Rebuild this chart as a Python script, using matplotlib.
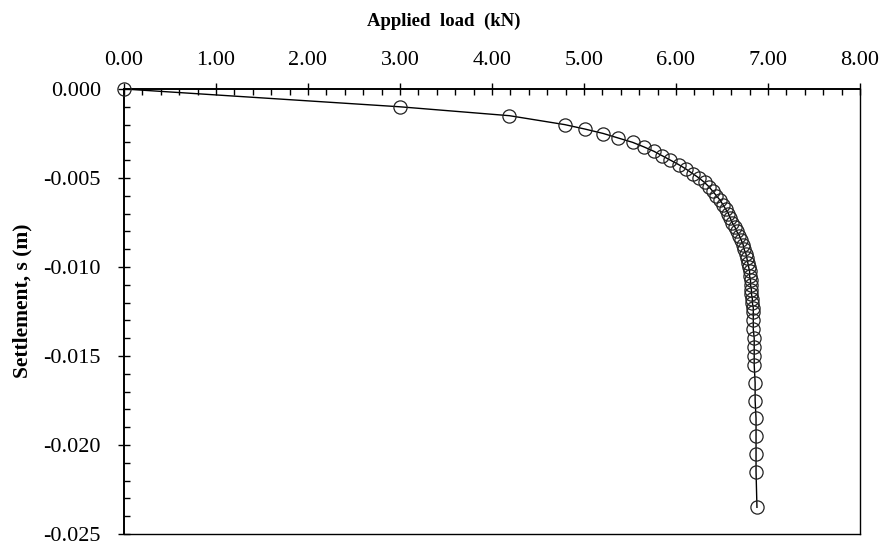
import matplotlib
matplotlib.use("Agg")
import matplotlib.pyplot as plt
from matplotlib.ticker import MultipleLocator, FormatStrFormatter

# Data
load_kN = [0.00, 3.00, 4.19, 4.79, 5.01, 5.21, 5.37, 5.53, 5.65, 5.76, 5.85,
           5.94, 6.03, 6.11, 6.18, 6.25, 6.31, 6.36, 6.40, 6.44, 6.48, 6.51,
           6.54, 6.57, 6.59, 6.61, 6.64, 6.66, 6.69, 6.71, 6.73, 6.74, 6.76,
           6.77, 6.78, 6.79, 6.80, 6.80, 6.81, 6.81, 6.82, 6.82, 6.83, 6.83,
           6.84, 6.84, 6.84, 6.84, 6.85, 6.85, 6.85, 6.85, 6.86, 6.86, 6.87,
           6.87, 6.87, 6.87, 6.88]
settlement_m = [0.0, -0.0010, -0.0015, -0.0020, -0.00225, -0.0025, -0.00275,
                -0.0030, -0.00325, -0.0035, -0.00375, -0.0040, -0.00425,
                -0.0045, -0.00475, -0.0050, -0.00525, -0.0055, -0.00575,
                -0.0060, -0.00625, -0.0065, -0.00675, -0.0070, -0.00725,
                -0.0075, -0.00775, -0.0080, -0.00825, -0.0085, -0.00875,
                -0.0090, -0.00925, -0.0095, -0.00975, -0.0100, -0.01025,
                -0.0105, -0.01075, -0.0110, -0.0113, -0.0115, -0.0118,
                -0.0120, -0.0123, -0.0125, -0.0130, -0.0135, -0.0140,
                -0.0145, -0.0150, -0.0155, -0.0165, -0.0175, -0.0185,
                -0.0195, -0.0205, -0.0215, -0.0235]

x_ticks = [0, 1, 2, 3, 4, 5, 6, 7, 8]
y_ticks = [0.0, -0.005, -0.010, -0.015, -0.020, -0.025]

plt.rcParams['font.family'] = ['Liberation Serif', 'DejaVu Serif']
plt.rcParams['axes.unicode_minus'] = False

fig = plt.figure(figsize=(8.87, 5.45), dpi=100)
ax = fig.add_axes([124/887, 1 - 534/545, (860-124)/887, (534-89)/545])

ax.plot(load_kN, settlement_m, color='black', lw=1.0,
        marker='o', markersize=9.5, markerfacecolor='none',
        markeredgecolor='#222222', markeredgewidth=0.9, zorder=3,
        clip_on=False)

ax.set_xlim(0, 8)
ax.set_ylim(-0.025, 0)
ax.set_xticks(x_ticks)
ax.set_yticks(y_ticks)
ax.xaxis.set_major_formatter(FormatStrFormatter('%.2f'))
ax.yaxis.set_major_formatter(FormatStrFormatter('%.3f'))
ax.xaxis.set_minor_locator(MultipleLocator(0.2))
ax.yaxis.set_minor_locator(MultipleLocator(0.001))

ax.xaxis.tick_top()
ax.tick_params(axis='x', which='major', direction='inout', length=9, width=1.0,
               labelsize=16, pad=9, top=True, bottom=False)
ax.tick_params(axis='x', which='minor', direction='in', length=4, width=1.0,
               top=True, bottom=False)
ax.tick_params(axis='y', which='major', direction='inout', length=9, width=1.0,
               labelsize=16, pad=12, left=True, right=False)
ax.tick_params(axis='y', which='minor', direction='in', length=4, width=1.0,
               left=True, right=False)

for sp in ['left', 'top']:
    ax.spines[sp].set_linewidth(1.4)
for sp in ['right', 'bottom']:
    ax.spines[sp].set_linewidth(1.0)

fig.text(444/887, 1 - 21/545, 'Applied  load  (kN)', ha='center', va='center',
         fontsize=13.5, fontweight='bold')
fig.text(22/887, 1 - 301/545, 'Settlement, s (m)', ha='center', va='center',
         rotation=90, fontsize=15.5, fontweight='bold')

fig.savefig('out.png', dpi=100)
